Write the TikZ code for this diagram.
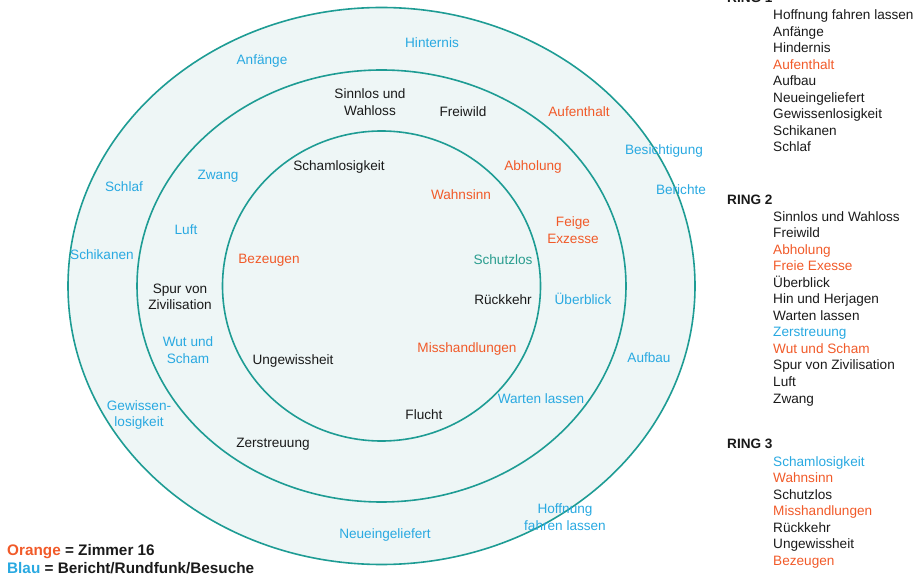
\documentclass[tikz,border=0pt]{standalone}
\usepackage{fontspec}
\setmainfont{Liberation Sans}
\usepackage{xcolor}
\usepackage{tikz}
\usetikzlibrary{positioning}

\definecolor{ringteal}{HTML}{1E9C94}
\definecolor{ringfill}{HTML}{EEF6F6}
\definecolor{zimmerorange}{HTML}{F15A29}
\definecolor{berichtblue}{HTML}{29A9E1}
\definecolor{schutzteal}{HTML}{2A9D8F}
\definecolor{inkblack}{HTML}{1A1A1A}

\tikzset{
  ring/.style={draw=ringteal, line width=1.6pt, fill=ringfill},
  word/.style={inner sep=0pt, anchor=base, font=\fontsize{13.6}{16.5}\selectfont},
  twoline/.style={inner sep=0pt, align=center, font=\fontsize{13.6}{16.5}\selectfont},
  item/.style={word, anchor=base west},
  ringhead/.style={item, font=\fontsize{13.6}{16.5}\selectfont\bfseries},
  legend/.style={inner sep=0pt, anchor=base west, font=\fontsize{15.3}{18}\selectfont\bfseries}
}

\begin{document}
\begin{tikzpicture}[x=1pt, y=-1pt]
  \useasboundingbox (0,0) rectangle (919,577);
  % Rings (outer to inner)
  \foreach \rx/\ry in {313.5/278.5, 244.5/216, 159/155} {
    \draw[ring] (381.5,286) ellipse ({\rx pt} and {\ry pt});
  }
  % Ring 1 words
  \foreach \i/\txt/\x/\y/\col in {
    1/Hinternis/432/43/berichtblue, 2/Anfänge/262/60/berichtblue,
    3/Aufenthalt/579/112/zimmerorange, 4/Besichtigung/664/150/berichtblue,
    5/Berichte/681/190/berichtblue, 6/Schlaf/124/187/berichtblue,
    7/Schikanen/102/255/berichtblue, 8/Aufbau/649/358/berichtblue,
    9/Neueingeliefert/385/533/berichtblue} {
    \node[word, text=\col] (outer\i) at (\x,\y+5) {\txt};
  }
  \node[twoline, text=berichtblue] (outer10) at (139,415) {Gewissen-\\losigkeit};
  \node[twoline, text=berichtblue] (outer11) at (565,517) {Hoffnung\\fahren lassen};
  % Ring 2 words
  \foreach \i/\txt/\x/\y/\col in {
    1/Freiwild/463/112/inkblack, 2/Abholung/533/166/zimmerorange,
    3/Überblick/583/300/berichtblue, 4/Warten lassen/541/399/berichtblue,
    5/Zerstreuung/273/442/inkblack, 6/Luft/186/230/berichtblue,
    7/Zwang/218/175/berichtblue} {
    \node[word, text=\col] (middle\i) at (\x,\y+5) {\txt};
  }
  \foreach \i/\txt/\x/\y/\col in {
    8/{Sinnlos und\\Wahloss}/370/102/inkblack,
    9/{Feige\\Exzesse}/573/230/zimmerorange,
    10/{Wut und\\Scham}/188/350/berichtblue,
    11/{Spur von\\Zivilisation}/180/297/inkblack} {
    \node[twoline, text=\col] (middle\i) at (\x,\y) {\txt};
  }
  % Ring 3 words
  \foreach \i/\txt/\x/\y/\col in {
    1/Schamlosigkeit/339/166/inkblack, 2/Wahnsinn/461/195/zimmerorange,
    3/Schutzlos/503/260/schutzteal, 4/Bezeugen/269/259/zimmerorange,
    5/Rückkehr/503/300/inkblack, 6/Misshandlungen/467/348/zimmerorange,
    7/Ungewissheit/293/360/inkblack, 8/Flucht/424/415/inkblack} {
    \node[word, text=\col] (inner\i) at (\x,\y+5) {\txt};
  }
  % Lists on the right
  \node[ringhead, text=inkblack] (headA) at (727,2.5) {RING 1};
  \foreach [count=\k] \txt/\col in {
    Hoffnung fahren lassen/inkblack, Anfänge/inkblack, Hindernis/inkblack,
    Aufenthalt/zimmerorange, Aufbau/inkblack, Neueingeliefert/inkblack,
    Gewissenlosigkeit/inkblack, Schikanen/inkblack, Schlaf/inkblack} {
    \node[item, text=\col] (listA\k) at (773,{20+16.5*(\k-1)}) {\txt};
  }
  \node[ringhead, text=inkblack] (headB) at (727,204.5) {RING 2};
  \foreach [count=\k] \txt/\col in {
    Sinnlos und Wahloss/inkblack, Freiwild/inkblack, Abholung/zimmerorange,
    Freie Exesse/zimmerorange, Überblick/inkblack, Hin und Herjagen/inkblack,
    Warten lassen/inkblack, Zerstreuung/berichtblue, Wut und Scham/zimmerorange,
    Spur von Zivilisation/inkblack, Luft/inkblack, Zwang/inkblack} {
    \node[item, text=\col] (listB\k) at (773,{221.5+16.5*(\k-1)}) {\txt};
  }
  \node[ringhead, text=inkblack] (headC) at (727,449) {RING 3};
  \foreach [count=\k] \txt/\col in {
    Schamlosigkeit/berichtblue, Wahnsinn/zimmerorange, Schutzlos/inkblack,
    Misshandlungen/zimmerorange, Rückkehr/inkblack, Ungewissheit/inkblack,
    Bezeugen/zimmerorange} {
    \node[item, text=\col] (listC\k) at (773,{466+16.5*(\k-1)}) {\txt};
  }
  % Legend
  \node[legend, text=inkblack] (legOrange) at (7,555.5)
    {\textcolor{zimmerorange}{Orange} = Zimmer 16};
  \node[legend, text=inkblack] (legBlau) at (7,573.5)
    {\textcolor{berichtblue}{Blau} = Bericht/Rundfunk/Besuche};
\end{tikzpicture}
\end{document}
